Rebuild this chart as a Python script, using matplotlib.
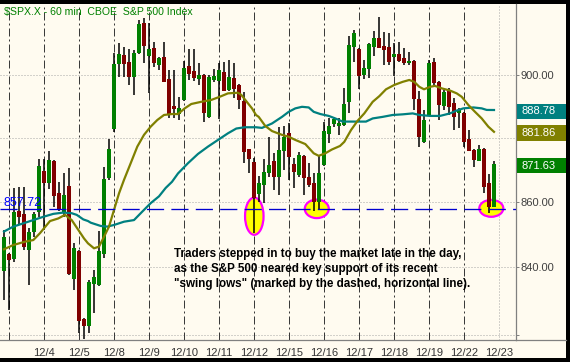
import numpy as np
import matplotlib
matplotlib.use('Agg')
import matplotlib.pyplot as plt
from matplotlib.patches import Ellipse, Rectangle
from matplotlib.lines import Line2D
from matplotlib.transforms import IdentityTransform

# 60 min bars of $SPX.X, bar 0 = first bar of 12/3 (bar -1 = last bar of 12/2)
bar_idx = np.arange(-1, 98)
opens = [838.9, 844.1, 842.5, 857.3, 856.3, 845.3, 850.8, 857.0, 869.6, 865.7,
         872.7, 862.6, 856.5, 864.9, 836.5, 845.0, 824.6, 822.7, 835.0, 834.8,
         844.1, 867.3, 882.6, 903.5, 906.5, 904.3, 899.3, 907.2, 916.9, 906.1,
         908.6, 903.2, 905.9, 898.7, 890.0, 887.5, 892.0, 902.9, 901.3, 898.7,
         900.0, 886.5, 898.4, 898.2, 901.1, 895.2, 898.9, 896.8, 891.8, 876.3,
         872.4, 862.4, 865.2, 868.8, 872.7, 867.8, 875.9, 881.6, 871.6, 868.3,
         874.3, 867.8, 865.7, 860.0, 871.4, 881.3, 884.3, 883.7, 884.0, 891.4,
         909.2, 908.4, 900.0, 901.8, 909.2, 911.9, 909.4, 909.2, 905.9, 906.8,
         905.4, 903.8, 904.5, 892.3, 878.7, 887.2, 904.3, 897.8, 890.0, 895.2,
         890.9, 887.7, 887.7, 879.5, 876.1, 872.8, 876.6, 865.7, 858.5]
highs = [851.4, 844.4, 864.2, 864.7, 864.7, 852.0, 857.0, 873.2, 873.2, 875.9,
         873.0, 866.2, 868.8, 870.4, 847.5, 845.3, 824.9, 836.2, 839.2, 851.1,
         870.9, 879.5, 907.1, 910.5, 909.2, 908.3, 908.1, 917.9, 918.5, 916.9,
         910.8, 905.9, 910.8, 901.6, 901.6, 893.0, 904.5, 908.3, 908.3, 903.8,
         900.3, 900.0, 901.8, 903.8, 904.3, 904.9, 903.9, 897.1, 894.6, 876.4,
         873.6, 868.0, 873.2, 880.3, 875.3, 883.5, 883.7, 884.6, 873.5, 875.6,
         874.6, 872.0, 868.8, 874.6, 885.1, 886.1, 886.6, 886.2, 895.7, 912.7,
         914.6, 908.8, 904.9, 910.5, 914.3, 918.9, 914.1, 913.5, 910.3, 910.8,
         908.6, 907.6, 904.9, 894.9, 888.9, 904.9, 905.4, 898.1, 895.2, 895.8,
         892.6, 889.4, 888.1, 882.4, 876.3, 877.7, 876.8, 868.6, 872.7]
lows = [830.3, 827.3, 841.8, 852.9, 845.3, 834.8, 849.3, 855.4, 851.4, 864.0,
        858.5, 857.2, 855.4, 837.7, 833.3, 820.4, 818.7, 820.4, 826.3, 834.5,
        842.8, 866.8, 881.9, 899.5, 899.3, 896.8, 893.6, 906.8, 903.8, 894.1,
        902.7, 901.6, 897.8, 886.1, 886.2, 885.6, 891.6, 898.4, 898.1, 896.8,
        885.1, 886.2, 897.8, 885.8, 894.9, 894.9, 892.5, 889.0, 872.1, 868.8,
        850.3, 860.0, 859.6, 867.8, 863.7, 862.1, 869.9, 866.8, 864.2, 867.8,
        862.1, 864.7, 857.3, 857.5, 871.1, 878.2, 883.4, 880.9, 883.7, 887.7,
        904.3, 895.4, 898.6, 898.9, 906.1, 908.6, 903.2, 903.2, 899.7, 904.2,
        903.2, 903.2, 888.8, 877.2, 878.4, 886.9, 896.8, 885.6, 888.8, 887.2,
        882.4, 883.0, 877.0, 875.8, 870.9, 872.7, 862.8, 856.5, 858.3]
closes = [849.3, 842.3, 857.0, 855.4, 846.1, 850.7, 856.3, 871.1, 865.9, 873.0,
          861.8, 857.5, 862.1, 838.0, 846.0, 824.1, 822.6, 835.7, 837.0, 845.1,
          867.1, 876.4, 903.5, 906.8, 903.5, 899.5, 907.2, 916.6, 909.4, 908.3,
          904.0, 905.6, 897.9, 887.2, 889.1, 889.3, 902.2, 900.3, 898.9, 900.0,
          887.7, 899.5, 899.7, 901.6, 895.0, 899.5, 895.4, 892.0, 875.6, 873.2,
          861.2, 865.9, 869.4, 871.4, 867.8, 876.1, 880.3, 874.0, 869.4, 874.6,
          867.5, 865.2, 860.0, 869.0, 882.1, 883.7, 885.8, 884.8, 890.7, 909.7,
          913.7, 899.7, 902.2, 910.0, 911.9, 908.8, 908.1, 904.3, 906.8, 904.5,
          903.8, 904.5, 892.3, 880.1, 885.6, 903.8, 897.3, 890.4, 894.6, 889.8,
          886.6, 888.8, 878.7, 875.9, 873.0, 876.6, 864.5, 858.3, 871.63]

# moving averages (bar position, price)
olive_x = [-0.96, 0.9, 3.24, 4.9, 6.24, 8.24, 9.9, 11.24, 12.58, 13.9, 15.04, 15.84,
           17.04, 18.04, 19.04, 20.04, 21.04, 22.04, 23.04, 24.38, 25.7, 27.04, 28.38,
           29.7, 31.04, 32.64, 33.84, 35.18, 36.5, 38.5, 40.5, 42.18, 43.84, 45.84,
           46.5, 47.84, 48.64, 49.44, 49.98, 51.3, 52.64, 54.64, 55.98, 57.3, 59.3,
           60.98, 61.98, 63.3, 64.64, 66.24, 67.1, 68.44, 69.78, 71.1, 72.78, 74.1,
           75.44, 77.1, 78.78, 80.1, 81.1, 82.1, 83.04, 84.24, 85.24, 86.58, 88.24,
           89.58, 90.58, 91.9, 93.24, 94.58, 95.9, 97.04]
olive_y = [845.5, 846.8, 847.8, 848.3, 850.4, 854.1, 854.9, 856.0, 854.4, 851.4, 848.8, 847.3,
           845.8, 846.3, 849.3, 852.4, 857.5, 862.6, 866.8, 872.0, 877.2, 880.9, 883.5,
           885.6, 887.2, 887.5, 887.5, 889.3, 890.7, 891.4, 892.0, 893.0, 894.1, 894.3,
           893.6, 890.9, 889.3, 887.2, 886.6, 883.7, 882.1, 880.9, 880.3, 879.3, 878.0,
           875.1, 874.3, 875.1, 876.3, 877.4, 878.7, 882.4, 885.4, 887.7, 891.4, 893.2,
           895.4, 896.8, 897.8, 898.4, 897.8, 896.2, 895.4, 896.2, 896.5, 895.7, 895.0,
           894.1, 893.0, 890.4, 888.2, 886.1, 883.5, 881.86]
teal_x = [-0.96, 0.9, 2.9, 4.9, 6.9, 8.9, 10.9, 12.58, 13.58, 14.9, 15.84, 16.38,
          18.38, 19.7, 21.04, 23.04, 25.04, 26.7, 28.38, 30.04, 31.38, 32.64, 33.84,
          35.84, 37.84, 39.84, 41.84, 43.84, 45.5, 47.18, 49.44, 50.64, 52.64, 54.64,
          55.98, 57.3, 58.64, 59.98, 60.98, 62.3, 63.98, 65.3, 66.78, 68.78, 71.44,
          72.78, 74.78, 76.78, 78.78, 80.78, 82.1, 84.24, 86.24, 88.24, 89.58, 90.9,
          92.9, 94.58, 95.58, 97.04]
teal_y = [850.9, 852.4, 853.4, 854.4, 855.4, 856.3, 856.7, 856.5, 856.0, 854.6, 854.1, 853.6,
          852.6, 852.4, 852.9, 853.9, 854.4, 857.0, 859.6, 861.7, 864.3, 866.2, 868.8,
          872.0, 874.9, 877.2, 879.3, 881.4, 882.9, 883.3, 883.3, 883.1, 884.5, 886.6,
          888.2, 889.3, 889.8, 889.6, 888.2, 887.5, 886.9, 886.1, 885.1, 885.1, 885.1,
          886.1, 886.6, 887.2, 887.4, 887.7, 887.2, 886.9, 886.9, 887.7, 888.6, 889.3,
          889.6, 889.3, 888.8, 888.78]

day_sep = [0, 7, 14, 21, 28, 35, 42, 49, 56, 63, 70, 77, 84, 91]
day_labels = ['', '12/4', '12/5', '12/8', '12/9', '12/10', '12/11', '12/12',
              '12/15', '12/16', '12/17', '12/18', '12/19', '12/22']
next_day = 98
next_label = '12/23'

grid_prices = [820, 840, 860, 880, 900]
grid_labels = ['', '840.00', '860.00', '', '900.00']   # 880.00 sits under the 881.86 box
support = 857.72
last_values = [888.78, 881.86, 871.63]
last_colors = ['#008080', '#808000', '#008000']

# swing lows circled: (bar centre, price centre, width in bars, height in points)
circles = [(49.1, 855.6, 3.7, 11.4), (61.6, 857.85, 4.8, 5.7), (96.5, 858.0, 4.8, 5.2)]

note = ['Traders stepped in to buy the market late in the day,',
        'as the S&P 500 neared key support of its recent',
        '"swing lows" (marked by the dashed, horizontal line).']

BG = '#fffbf0'
W, H = 570, 362
FONT = ['Liberation Sans', 'DejaVu Sans']

fig = plt.figure(figsize=(W / 100, H / 100), dpi=100, facecolor='black')
fig.add_artist(Rectangle((0, 4 / H), 566 / W, 354 / H, transform=fig.transFigure,
                         facecolor=BG, edgecolor='none', zorder=-5))

ax = fig.add_axes([0, 22 / H, 516 / W, 336 / H])
ax.set_facecolor(BG)
ax.set_yscale('log')
ax.set_xlim(-1.76, 101.44)
ax.set_ylim(818.45, 923.2)

for s in ['top', 'left']:
    ax.spines[s].set_visible(False)
for s in ['right', 'bottom']:
    ax.spines[s].set_color('#808080')
    ax.spines[s].set_linewidth(0.9)

# grid and day separators
for p in grid_prices:
    ax.axhline(p, color='#a8a8a8', lw=0.72, ls=(0, (1, 2)), zorder=1)
for d in day_sep:
    ax.axvline(d, color='#3a3a3a', lw=0.72, ls=(0, (8, 3, 2, 3)), zorder=1)
ax.axvline(next_day, color='#a8a8a8', lw=0.72, ls=(0, (1, 2)), zorder=1)

# circles
for cx, cy, w, h in circles:
    ax.add_patch(Ellipse((cx, cy), w, h, facecolor='#ffff00', edgecolor='#ff00ff',
                         lw=1.6, zorder=2))

# candles
o = np.array(opens)
c = np.array(closes)
up = c >= o
ax.vlines(bar_idx, lows, highs, color='black', lw=1.1, zorder=3)
body_h = np.maximum(np.abs(c - o), 0.35)
ax.bar(bar_idx, body_h, bottom=np.minimum(o, c), width=0.8,
       color=np.where(up, '#008000', '#800000'), linewidth=0, zorder=4)

# moving averages
ax.plot(teal_x, teal_y, color='#008080', lw=1.6, zorder=5)
ax.plot(olive_x, olive_y, color='#808000', lw=1.6, zorder=5)

# support line
ax.axhline(support, color='#0000d0', lw=0.95, ls=(0, (13, 5.5)), zorder=6)
ax.annotate(f'{support:.2f}', xy=(4 / 516, support), xycoords=('axes fraction', 'data'),
            xytext=(0, 2.4), textcoords='offset points', va='baseline', ha='left',
            color='#0000ff', fontsize=9, family=FONT, zorder=9)

# axis ticks
ax.yaxis.tick_right()
ax.set_yticks(grid_prices)
ax.set_yticklabels(grid_labels)
ax.yaxis.set_minor_locator(matplotlib.ticker.NullLocator())
ax.tick_params(axis='y', length=2.5, width=0.7, color='#808080', pad=1,
               labelsize=8, labelcolor='#404040')
ax.set_xticks(day_sep[1:] + [next_day])
ax.set_xticklabels(day_labels[1:] + [next_label])
ax.tick_params(axis='x', length=0, pad=6, labelsize=8, labelcolor='#333333')
for lab in ax.get_xticklabels():
    lab.set_family(['Liberation Sans Narrow'] + FONT)
for lab in ax.get_yticklabels():
    lab.set_family(FONT)

# bottom axis line continues under the price panel
fig.add_artist(Line2D([516 / W, 566 / W], [22 / H, 22 / H], color='#808080', lw=0.9,
                      transform=fig.transFigure))

# last value boxes on the price scale
for v, col in zip(last_values, last_colors):
    yd = ax.transData.transform((0, v))[1] - 1.2
    fig.add_artist(Rectangle((516.5, yd - 7.7), 49.5, 15.4, transform=IdentityTransform(),
                             facecolor=col, edgecolor='none', zorder=10))
    fig.text(521 / W, yd / H, f'{v:.2f}', color='white', fontsize=8, family=FONT,
             va='center', ha='left', zorder=11)

# title
fig.text(4 / W, 1 - 11.5 / H, r'\$SPX.X - 60 min  CBOE  S&P 500 Index', color='#008000',
         fontsize=7.6, family=FONT, va='center', ha='left')

# comment
for k, line in enumerate(note):
    base = 256.7 + 15 * k
    ax.text(174 / 516, (340 - base) / 336, line, transform=ax.transAxes, fontsize=8.4,
            fontweight='bold', family=FONT, color='black', va='baseline', ha='left', zorder=8)

fig.savefig('out.png', dpi=100, facecolor=fig.get_facecolor())
